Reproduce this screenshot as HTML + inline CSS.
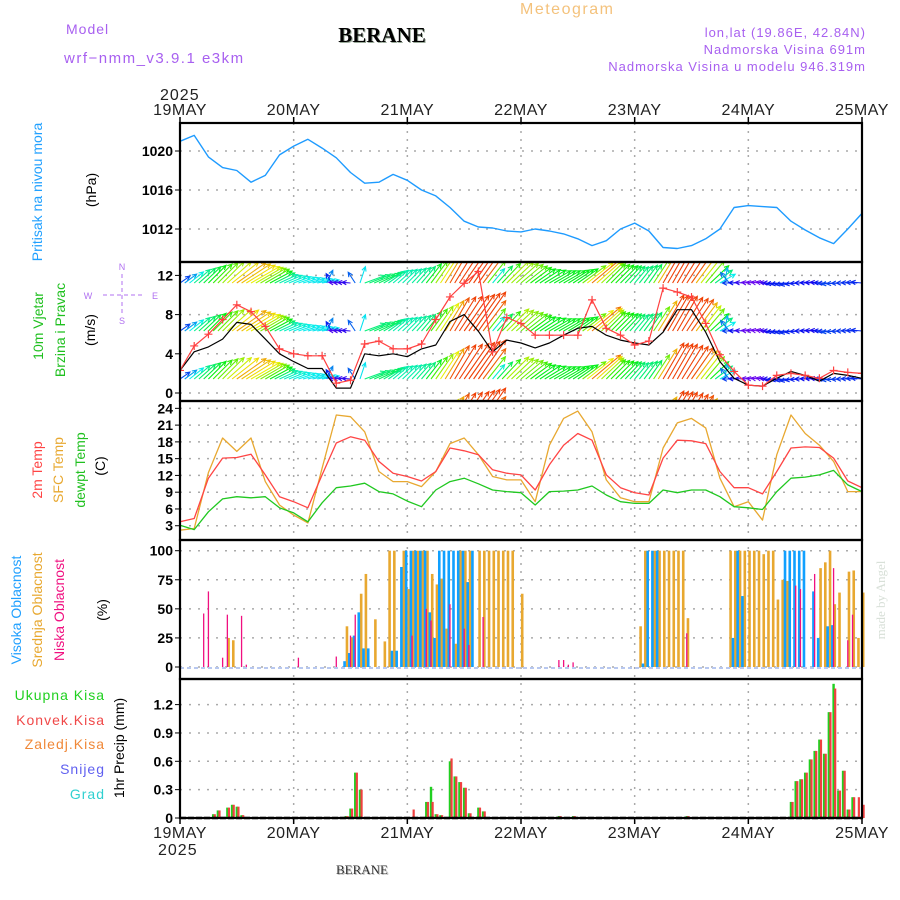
<!DOCTYPE html>
<html><head><meta charset="utf-8"><style>
html,body{margin:0;padding:0;background:#fff;}
svg{display:block;font-family:"Liberation Sans",sans-serif;}
</style></head><body>
<svg id="chart" width="900" height="900" viewBox="0 0 900 900" xmlns="http://www.w3.org/2000/svg">
<defs>
<clipPath id="cpW"><rect x="180" y="263" width="682" height="137"/></clipPath>
</defs>
<text x="66" y="34" font-size="14" fill="#a860f0" letter-spacing="1">Model</text>
<text x="64" y="63" font-size="15" fill="#a860f0" letter-spacing="1.5">wrf−nmm_v3.9.1 e3km</text>
<text x="383" y="43" font-size="21" font-weight="bold" font-family="Liberation Serif, serif" fill="#9a9" text-anchor="middle">BERANE</text>
<text x="382" y="42" font-size="21" font-weight="bold" font-family="Liberation Serif, serif" fill="#000" text-anchor="middle">BERANE</text>
<text x="520" y="14" font-size="16" fill="#f4c27c" letter-spacing="1.5">Meteogram</text>
<text x="866" y="37" font-size="13" fill="#a860f0" text-anchor="end" letter-spacing="1">lon,lat (19.86E, 42.84N)</text>
<text x="866" y="54" font-size="13" fill="#a860f0" text-anchor="end" letter-spacing="1">Nadmorska Visina 691m</text>
<text x="866" y="71" font-size="13" fill="#a860f0" text-anchor="end" letter-spacing="1">Nadmorska Visina u modelu 946.319m</text>
<text x="160" y="100" font-size="16" fill="#222" letter-spacing="1">2025</text>
<g id="topDates"></g>
<g id="botDates"></g>
<text x="158" y="855" font-size="16" fill="#222" letter-spacing="1">2025</text>
<text x="363" y="875" font-size="13" font-family="Liberation Serif, serif" fill="#bbb" text-anchor="middle">BERANE</text>
<text x="362" y="874" font-size="13" font-family="Liberation Serif, serif" fill="#333" text-anchor="middle">BERANE</text>
<text transform="translate(885,600) rotate(-90)" font-size="13" font-family="Liberation Serif, serif" fill="#d8e0d8" text-anchor="middle">made by Angel</text>

<text transform="translate(42,192) rotate(-90)" font-size="14" fill="#20a0ff" text-anchor="middle">Pritisak na nivou mora</text>
<text transform="translate(96,190) rotate(-90)" font-size="14" fill="#000" text-anchor="middle">(hPa)</text>
<text transform="translate(43,326) rotate(-90)" font-size="14" fill="#20c020" text-anchor="middle">10m Vjetar</text>
<text transform="translate(65,330) rotate(-90)" font-size="14" fill="#20c020" text-anchor="middle">Brzina i Pravac</text>
<text transform="translate(95,330) rotate(-90)" font-size="14" fill="#000" text-anchor="middle">(m/s)</text>
<g fill="#b070f0" stroke="none" font-size="9">
<text x="122" y="270" text-anchor="middle">N</text>
<text x="122" y="324" text-anchor="middle">S</text>
<text x="88" y="299" text-anchor="middle">W</text>
<text x="155" y="299" text-anchor="middle">E</text>
<line x1="103" y1="295" x2="142" y2="295" stroke="#b070f0" stroke-dasharray="4,3"/>
<line x1="122" y1="274" x2="122" y2="315" stroke="#b070f0" stroke-dasharray="4,3"/>
</g>
<text transform="translate(42,470) rotate(-90)" font-size="14" fill="#ff4444" text-anchor="middle">2m Temp</text>
<text transform="translate(63,470) rotate(-90)" font-size="14" fill="#e8a830" text-anchor="middle">SFC Temp</text>
<text transform="translate(85,470) rotate(-90)" font-size="14" fill="#20c020" text-anchor="middle">dewpt Temp</text>
<text transform="translate(105,466) rotate(-90)" font-size="14" fill="#000" text-anchor="middle">(C)</text>
<text transform="translate(21,610) rotate(-90)" font-size="14" fill="#20a0ff" text-anchor="middle">Visoka Oblacnost</text>
<text transform="translate(42,610) rotate(-90)" font-size="14" fill="#e8a830" text-anchor="middle">Srednja Oblacnost</text>
<text transform="translate(64,610) rotate(-90)" font-size="14" fill="#f01080" text-anchor="middle">Niska Oblacnost</text>
<text transform="translate(107,610) rotate(-90)" font-size="14" fill="#000" text-anchor="middle">(%)</text>
<g font-size="14" text-anchor="end" letter-spacing="1">
<text x="105" y="700" fill="#20d020">Ukupna Kisa</text>
<text x="105" y="725" fill="#f04848">Konvek.Kisa</text>
<text x="105" y="749" fill="#f08838">Zaledj.Kisa</text>
<text x="105" y="774" fill="#6060f0">Snijeg</text>
<text x="105" y="799" fill="#30d0d0">Grad</text>
</g>
<text transform="translate(124,748) rotate(-90)" font-size="14" fill="#000" text-anchor="middle">1hr Precip (mm)</text>

<g id="grid"></g>
<g id="marks"></g>
<g id="frames"></g>
</svg>
<script>
const dayLabels = ["19MAY","20MAY","21MAY","22MAY","23MAY","24MAY","25MAY"];
const pressure = [1021.0,1021.6,1019.4,1018.3,1018.0,1016.8,1017.5,1019.6,1020.5,1021.2,1020.3,1019.3,1017.8,1016.7,1016.8,1017.6,1017.0,1016.0,1015.4,1014.2,1012.8,1012.2,1012.1,1011.8,1011.7,1012.0,1011.8,1011.5,1011.0,1010.3,1010.8,1012.0,1012.6,1011.8,1010.1,1010.0,1010.3,1011.0,1012.0,1014.2,1014.4,1014.3,1014.2,1012.8,1011.9,1011.1,1010.5,1012.0,1013.6];
const pressureTicks = [1020,1016,1012];
const windSpeed = [2.3,4.8,6.0,7.5,9.0,8.3,6.8,4.5,4.0,3.8,3.8,1.0,1.3,5.0,5.3,4.5,4.5,5.0,7.5,9.8,11.2,12.4,4.2,7.7,7.1,5.9,5.9,5.9,5.9,9.5,6.6,5.9,4.9,5.3,10.7,10.3,9.8,7.1,3.9,2.2,0.8,0.7,1.8,2.0,1.8,1.5,2.3,2.1,2.0];
const windGust = [2.3,4.2,4.7,5.5,7.2,7.0,5.5,4.0,3.2,2.5,2.5,0.5,0.5,4.0,3.8,4.0,3.7,4.5,4.9,7.3,8.0,6.3,4.2,5.4,5.1,4.6,5.1,5.9,6.6,6.8,5.9,5.4,5.1,4.9,6.2,8.5,8.5,6.2,3.2,1.5,0.8,0.7,1.5,2.2,1.8,1.2,2.0,1.8,1.5];
const windDir = [35,40,45,45,35,30,30,25,20,15,10,175,175,20,25,40,45,50,55,60,55,55,50,45,40,35,30,30,35,40,45,45,50,55,60,60,55,50,30,180,175,170,185,190,180,175,185,180,175];
const windTicks = [12,8,4,0];
const temp2m = [3.7,4.3,11.5,15.1,15.2,15.8,12.1,8.2,7.3,6.2,12.1,17.8,18.9,18.3,14.5,12.4,11.8,11.0,12.7,16.9,16.4,15.7,13.0,12.4,12.1,9.4,13.9,17.4,19.5,18.3,12.1,9.8,8.9,8.5,15.1,18.3,18.2,17.7,12.7,9.8,9.8,8.7,12.7,16.9,17.1,17.0,15.1,11.0,9.8];
const tempSfc = [2.2,2.5,12.5,18.7,16.3,18.7,10.9,6.7,4.9,3.5,13.3,22.8,22.5,19.8,12.7,10.9,10.9,10.0,12.7,17.7,18.7,15.7,11.8,11.2,11.2,7.3,17.4,22.2,23.5,19.8,11.2,8.0,7.3,7.3,16.9,21.4,22.2,20.5,11.5,6.4,7.3,4.0,15.7,22.8,19.5,17.4,14.5,9.1,9.1];
const dewpoint = [3.1,2.3,5.5,7.8,8.2,8.0,8.2,6.2,5.3,3.7,7.1,9.8,10.1,10.6,9.1,8.7,7.4,6.4,9.4,10.9,11.5,10.5,9.4,9.1,8.9,6.7,9.1,9.2,9.4,10.1,8.5,7.3,7.0,7.0,9.4,8.9,9.4,9.4,8.2,6.4,6.2,5.9,9.1,11.5,11.7,12.1,12.9,10.3,9.1];
const tempTicks = [24,21,18,15,12,9,6,3];
const highHours = [35,36,37,38,39,40,45,46,47,48,49,50,51,52,53,54,55,56,57,58,59,60,61,62,98,99,100,101,117,118,119,128,129,130,131,132,134,135,137,138];
const highVals  = [5,12,27,47,16,16,14,14,86,100,100,100,100,100,47,25,100,100,100,100,100,100,73,100,3,100,100,100,25,100,61,100,100,100,100,100,65,25,35,36];
const midHours = [10,11,35,36,38,39,41,43,44,45,47,48,49,50,51,52,53,54,55,56,58,59,60,61,63,64,65,66,67,68,69,70,72,97,98,100,101,102,103,104,105,106,107,116,117,118,119,120,121,122,123,124,125,126,127,128,135,136,137,138,139,141,142,143,144];
const midVals  = [25,23,35,25,63,80,41,22,100,100,100,67,100,100,100,100,80,71,76,33,20,100,100,100,100,100,100,100,100,100,100,100,63,35,100,100,100,100,100,100,100,100,42,100,100,100,100,100,100,100,97,100,100,58,75,74,85,90,100,54,64,82,83,25,64];
const lowHours = [5,6,9,10,13,14,25,33,36,37,49,52,53,57,60,61,64,80,81,82,83,107,130,131,134,138,141,142];
const lowVals  = [46,65,8,45,44,2,8,9,27,45,27,50,40,54,33,19,43,6,6,2,4,29,70,67,80,85,23,45];
const cloudTicks = [100,75,50,25,0];
const precipHours = [7,8,10,11,12,13,35,36,37,38,49,52,53,54,55,57,58,59,60,61,63,64,80,83,107,125,129,130,131,132,133,134,135,136,137,138,139,140,141,142,143,144];
const precipTotal = [0.04,0.08,0.11,0.14,0.12,0.03,0.02,0.1,0.48,0.3,0,0.17,0.33,0.04,0.03,0.6,0.44,0.38,0.32,0.05,0.11,0.07,0.02,0.02,0.02,0.01,0.17,0.39,0.41,0.48,0.62,0.71,0.83,0.68,1.12,1.42,0.29,0.50,0.09,0.22,0,0];
const precipConv  = [0.04,0.08,0.11,0.14,0.12,0.03,0.02,0.1,0.48,0.3,0.09,0.17,0.17,0.04,0.03,0.63,0.44,0.38,0.32,0.05,0.11,0.07,0.02,0.02,0.02,0.01,0.17,0.39,0.41,0.48,0.62,0.71,0.83,0.68,1.12,1.37,0.29,0.50,0.09,0.22,0.22,0.14];
const precipTicks = [1.2,0.9,0.6,0.3,0];

const X0 = 180, X1 = 862, HOURS = 144;
const xH = h => X0 + h * (X1 - X0) / HOURS;
const x3 = i => xH(i * 3);
const yP = v => 151 + (1020 - v) * 9.75;
const yW = v => 393 - v * 9.8;
const yT = v => 542.5 - v * 5.59;
const yC = v => 667 - v * 1.163;
const yR = v => 818 - v * 94.5;
const panels = [[123,262],[262,401],[401,540],[540,679],[679,818]];

const NS = "http://www.w3.org/2000/svg";
function mk(tag, attrs, parent) {
  const e = document.createElementNS(NS, tag);
  for (const k in attrs) e.setAttribute(k, attrs[k]);
  parent.appendChild(e);
  return e;
}
const grid = document.getElementById('grid');
const marks = document.getElementById('marks');
const frames = document.getElementById('frames');

dayLabels.forEach((d, i) => {
  const t = mk('text', {x: xH(i*24), y: 115, 'font-size': 16, 'text-anchor': 'middle', fill: '#222', 'letter-spacing': 0.5}, document.getElementById('topDates'));
  t.textContent = d;
  
  
  const b = mk('text', {x: xH(i*24), y: 838, 'font-size': 16, 'text-anchor': 'middle', fill: '#222', 'letter-spacing': 0.5}, document.getElementById('botDates'));
  b.textContent = d;
  
  
});

function hgrid(ticks, yf, fmt) {
  ticks.forEach(v => {
    const y = yf(v);
    const l = mk('line', {x1: X0, x2: X1, y1: y, y2: y, stroke: '#aaa', 'stroke-width': 1.5, 'stroke-dasharray': '2,7'}, grid);
    
    
    const tk = mk('line', {x1: X0-5, x2: X0, y1: y, y2: y, stroke: '#000', 'stroke-width': 1}, grid);
    
    
    const t = mk('text', {x: X0-7, y: y+5, 'font-size': 14, 'font-weight': 'bold', 'text-anchor': 'end', fill: '#000'}, grid);
    t.textContent = fmt ? fmt(v) : v;
    
    
  });
}
hgrid(pressureTicks, yP);
hgrid(windTicks, yW);
hgrid(tempTicks, yT);
hgrid(cloudTicks, yC);
hgrid(precipTicks, yR, v => v === 0 ? '0' : v.toFixed(1));
for (let d = 1; d < 6; d++) {
  const l = mk('line', {x1: xH(d*24), x2: xH(d*24), y1: 123, y2: 818, stroke: '#aaa', 'stroke-width': 1.5, 'stroke-dasharray': '2,6'}, grid);
  
  
}

function polyline(vals, xf, yf, color, w, name, parent) {
  const pts = vals.map((v, i) => xf(i).toFixed(1) + ',' + yf(v).toFixed(1)).join(' ');
  const p = mk('polyline', {points: pts, fill: 'none', stroke: color, 'stroke-width': w, 'stroke-linejoin': 'round'}, parent || marks);
  
  
  return p;
}
polyline(pressure, x3, yP, '#1e9bff', 1.4, 'pressure-line');

const wg = mk('g', {'clip-path': 'url(#cpW)'}, marks);


function interp(arr, h) {
  const f = h / 3, i = Math.min(Math.floor(f), arr.length - 2), t = f - i;
  return arr[i] * (1 - t) + arr[i+1] * t;
}
function interpAngle(arr, h) {
  const f = h / 3, i = Math.min(Math.floor(f), arr.length - 2), t = f - i;
  let a = arr[i], b = arr[i+1];
  let d = ((b - a + 540) % 360) - 180;
  return a + d * t;
}
const rowBases = [235, 283, 331, 379, 427];
for (let h = 0; h <= HOURS; h++) {
  const v = interp(windSpeed, h);
  const ang = interpAngle(windDir, h) * Math.PI / 180;
  const L = 4 + 3.5 * v;
  const hue = Math.max(15, 285 - v * 27);
  const col = 'hsl(' + hue + ',95%,48%)';
  rowBases.forEach(by => {
    const x0 = xH(h), y0 = by;
    const x1 = x0 + L * Math.cos(ang), y1 = y0 - L * Math.sin(ang);
    const a1 = ang + Math.PI - 0.45, a2 = ang + Math.PI + 0.45;
    const d = 'M' + x0.toFixed(1) + ' ' + y0.toFixed(1) + 'L' + x1.toFixed(1) + ' ' + y1.toFixed(1) +
      'M' + (x1 + 5*Math.cos(a1)).toFixed(1) + ' ' + (y1 - 5*Math.sin(a1)).toFixed(1) + 'L' + x1.toFixed(1) + ' ' + y1.toFixed(1) +
      'L' + (x1 + 5*Math.cos(a2)).toFixed(1) + ' ' + (y1 - 5*Math.sin(a2)).toFixed(1);
    const p = mk('path', {d: d, stroke: col, 'stroke-width': 1.1, fill: 'none'}, wg);
    
    
  });
}
polyline(windGust, x3, yW, '#000', 1.2, 'wind-black-line', wg);
polyline(windSpeed, x3, yW, '#ff4040', 1.2, 'wind-speed-line', wg);
windSpeed.forEach((v, i) => {
  const x = x3(i), y = yW(v);
  const c = mk('path', {d: 'M' + (x-4) + ' ' + y + 'H' + (x+4) + 'M' + x + ' ' + (y-4) + 'V' + (y+4), stroke: '#ff4040', 'stroke-width': 1.2}, wg);
  
  
});

polyline(tempSfc, x3, yT, '#e8a830', 1.3, 'sfc-temp-line');
polyline(temp2m, x3, yT, '#ff4444', 1.3, 'temp-2m-line');
polyline(dewpoint, x3, yT, '#20c820', 1.3, 'dewpoint-line');

const cb = mk('line', {x1: X0, x2: X1, y1: yC(0)+1, y2: yC(0)+1, stroke: '#b8c8f0', 'stroke-width': 2, 'stroke-dasharray': '4,3'}, marks);


function bars(hours, vals, off, w, color, yf, name) {
  hours.forEach((h, i) => {
    const v = vals[i];
    if (v <= 0) return;
    const x = xH(h) + off, y = yf(v), y0 = yf(0);
    const r = mk('rect', {x: x - w/2, y: y, width: w, height: Math.max(0.5, y0 - y), fill: color}, marks);
    
    
  });
}
bars(midHours, midVals, 1.2, 2.6, '#e8a830', yC, 'cloud-mid-bar');
bars(highHours, highVals, -1.2, 2.6, '#10a0ff', yC, 'cloud-high-bar');
bars(lowHours, lowVals, 0, 1.3, '#f01080', yC, 'cloud-low-bar');

bars(precipHours, precipTotal, 0, 2.4, '#20d020', yR, 'precip-total-bar');
bars(precipHours, precipConv, 1.6, 2.2, '#f04040', yR, 'precip-convective-bar');

panels.forEach(([a, b]) => {
  const r = mk('rect', {x: X0, y: a, width: X1 - X0, height: b - a, fill: 'none', stroke: '#000', 'stroke-width': 2.2}, frames);
  
  
});
const bl = mk('line', {x1: X0, x2: X1, y1: 818, y2: 818, stroke: '#000', 'stroke-width': 2.5, 'stroke-dasharray': '6,2'}, frames);


for (let d = 0; d <= 6; d++) {
  const t = mk('line', {x1: xH(d*24), x2: xH(d*24), y1: 818, y2: 824, stroke: '#000', 'stroke-width': 1.5}, frames);
  
  
  const t2 = mk('line', {x1: xH(d*24), x2: xH(d*24), y1: 117, y2: 123, stroke: '#000', 'stroke-width': 1.5}, frames);
  
  
}
</script>
</body></html>
